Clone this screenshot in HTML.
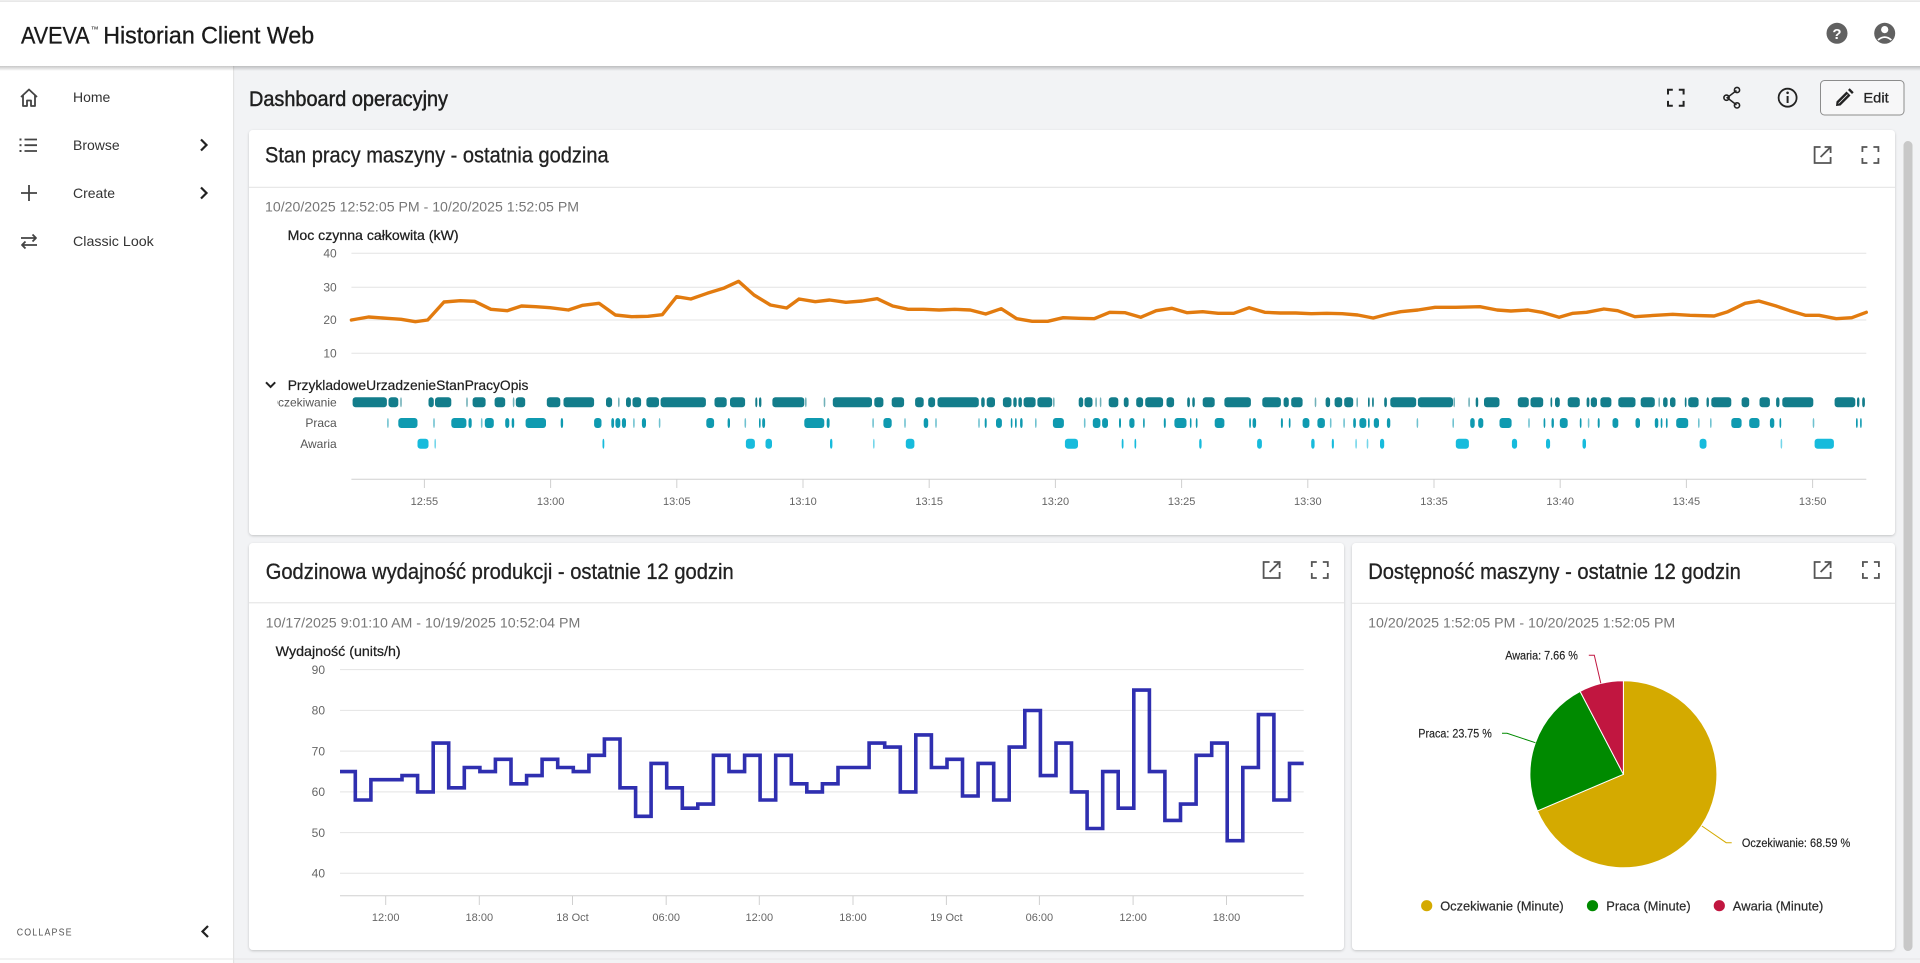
<!DOCTYPE html>
<html><head><meta charset="utf-8"><style>
html,body{margin:0;padding:0;background:#f2f3f5;overflow:hidden}
svg{display:block}
.oc rect{fill:#137d8b;rx:3px;ry:3px}
.pr rect{fill:#0f9ab0;rx:3px;ry:3px}
.aw rect{fill:#17bbdc;rx:3px;ry:3px}
</style></head><body>
<svg width="1920" height="963" viewBox="0 0 1920 963" xmlns="http://www.w3.org/2000/svg" font-family="'Liberation Sans', Arial, sans-serif">
<defs>
<filter id="sh" x="-2%" y="-4%" width="104%" height="110%"><feDropShadow dx="0" dy="1" stdDeviation="1.3" flood-color="#000" flood-opacity="0.2"/></filter>
<linearGradient id="hs" x1="0" y1="0" x2="0" y2="1"><stop offset="0" stop-color="#000" stop-opacity="0.22"/><stop offset="1" stop-color="#000" stop-opacity="0"/></linearGradient>
<clipPath id="lc"><rect x="277" y="390" width="70" height="20"/></clipPath>
</defs>
<rect x="0" y="0" width="1920" height="963" fill="#f2f3f5"/>
<!-- sidebar -->
<rect x="0" y="66" width="233" height="897" fill="#fff"/>
<rect x="233" y="66" width="1.2" height="897" fill="#e3e3e3"/>
<rect x="0" y="958.5" width="1920" height="1" fill="#e6e6e6"/>
<!-- header -->
<rect x="0" y="0" width="1920" height="66" fill="#fff"/>
<rect x="0" y="66" width="1920" height="5" fill="url(#hs)"/>
<rect x="0" y="0.5" width="1920" height="1.2" fill="#dedede"/>
<text x="21" y="43.3" font-size="24" fill="#1a1a1a" stroke="#1a1a1a" stroke-width="0.3" textLength="68.6" lengthAdjust="spacingAndGlyphs">AVEVA</text>
<text x="90.6" y="32" font-size="8" fill="#1a1a1a">™</text>
<text x="103.2" y="43.3" font-size="24" fill="#1a1a1a" stroke="#1a1a1a" stroke-width="0.3" textLength="211" lengthAdjust="spacingAndGlyphs">Historian Client Web</text>
<circle cx="1837" cy="33.3" r="10.5" fill="#616161"/>
<text x="1837" y="38.8" font-size="15" font-weight="bold" fill="#fff" text-anchor="middle">?</text>
<circle cx="1884.7" cy="33.3" r="10.5" fill="#616161"/>
<circle cx="1884.7" cy="29.6" r="3.6" fill="#fff"/>
<path d="M1878,40 Q1884.7,34.2 1891.4,40" stroke="#fff" stroke-width="1.7" fill="none"/>
<!-- sidebar items -->
<g stroke="#444" stroke-width="1.8" fill="none" stroke-linejoin="round">
<path d="M21,97 L29,89.5 L37,97 M23,95 V106 H27 V100.5 H31 V106 H35 V95"/>
<path d="M24.5,139.5 H37 M24.5,145.2 H37 M24.5,151 H37"/>
<path d="M21,193 H37 M29,185 V201"/>
<path d="M21,238 H36 M32.5,234.5 L36,238 L32.5,241.5 M37,245 H22 M25.5,241.5 L22,245 L25.5,248.5"/>
</g>
<g fill="#444"><rect x="19.5" y="138.5" width="2" height="2"/><rect x="19.5" y="144.2" width="2" height="2"/><rect x="19.5" y="150" width="2" height="2"/></g>
<g font-size="14" fill="#333">
<text x="73" y="102">Home</text>
<text x="73" y="150">Browse</text>
<text x="73" y="198">Create</text>
<text x="73" y="246" textLength="80.8" lengthAdjust="spacingAndGlyphs">Classic Look</text>
</g>
<g stroke="#222" stroke-width="2.2" fill="none"><path d="M201,139.5 L206.5,145 L201,150.5"/><path d="M201,187.5 L206.5,193 L201,198.5"/><path d="M208,926 L202.5,931.5 L208,937"/></g>
<text x="16.7" y="935.3" font-size="10" fill="#555" letter-spacing="1.3" textLength="56" lengthAdjust="spacingAndGlyphs">COLLAPSE</text>
<!-- page title row -->
<text x="249" y="106" font-size="21" fill="#1e1e1e" stroke="#1e1e1e" stroke-width="0.45" textLength="199" lengthAdjust="spacingAndGlyphs">Dashboard operacyjny</text>
<g stroke="#222" stroke-width="2" fill="none">
<path d="M1668,94.5 V89.7 H1672.8 M1678.8,89.7 H1683.6 V94.5 M1683.6,100.9 V105.7 H1678.8 M1672.8,105.7 H1668 V100.9"/>
<path d="M1736.5,90.5 L1727.2,97.7 L1736.5,104.9" stroke-width="1.5"/>
<circle cx="1737" cy="90" r="2.6" stroke-width="1.6"/><circle cx="1726.5" cy="97.7" r="2.6" stroke-width="1.6"/><circle cx="1737" cy="105.4" r="2.6" stroke-width="1.6"/>
<circle cx="1787.6" cy="97.7" r="9" stroke-width="1.8"/>
<path d="M1787.6,96 V103"/>
</g>
<circle cx="1787.6" cy="92.8" r="1.3" fill="#222"/>
<rect x="1820.5" y="80.5" width="83.5" height="34.5" rx="4" fill="#f7f7f8" stroke="#8c8c8c" stroke-width="1"/>
<path d="M1836,106 L1836.5,101.5 L1846.5,91.5 L1850.5,95.5 L1840.5,105.5 Z M1848,90 L1849.7,88.3 L1853.7,92.3 L1852,94 Z" fill="#222"/>
<path d="M1838.5,103.5 L1847.5,94.5" stroke="#f7f7f8" stroke-width="0.8"/>
<text x="1863.4" y="102.3" font-size="14" fill="#222" stroke="#222" stroke-width="0.25" textLength="25.3" lengthAdjust="spacingAndGlyphs">Edit</text>
<!-- scrollbar -->
<rect x="1903.5" y="141" width="9" height="810" rx="4.5" fill="#c8c8c8"/>
<!-- cards -->
<g filter="url(#sh)" fill="#fff">
<rect x="249" y="130" width="1646" height="405" rx="4"/>
<rect x="249" y="543" width="1095" height="407" rx="4"/>
<rect x="1352" y="543" width="543" height="407" rx="4"/>
</g>
<g fill="#e2e2e2"><rect x="249" y="186.8" width="1646" height="1"/><rect x="249" y="602.3" width="1095" height="1"/><rect x="1352" y="602.8" width="543" height="1"/></g>
<!-- card icons -->
<g stroke="#555" stroke-width="1.8" fill="none">
<path d="M1820.6,147 H1814.6 V163 H1830.6 V157 M1820.6,157 L1830.6,147 M1824.6,147 H1830.6 V153"/>
<path d="M1862.4,152 V147 H1867.4 M1873.4,147 H1878.4 V152 M1878.4,158 V163 H1873.4 M1867.4,163 H1862.4 V158"/>
<path d="M1269.6,562 H1263.6 V578 H1279.6 V572 M1269.6,572 L1279.6,562 M1273.6,562 H1279.6 V568"/>
<path d="M1311.8,567 V562 H1316.8 M1322.8,562 H1327.8 V567 M1327.8,573 V578 H1322.8 M1316.8,578 H1311.8 V573"/>
<path d="M1820.6,562 H1814.6 V578 H1830.6 V572 M1820.6,572 L1830.6,562 M1824.6,562 H1830.6 V568"/>
<path d="M1862.9,567 V562 H1867.9 M1873.9,562 H1878.9 V567 M1878.9,573 V578 H1873.9 M1867.9,578 H1862.9 V573"/>
</g>
<!-- card titles & dates -->
<g font-size="22" fill="#222" stroke="#222" stroke-width="0.3">
<text x="265" y="162.5" textLength="343.6" lengthAdjust="spacingAndGlyphs">Stan pracy maszyny - ostatnia godzina</text>
<text x="265.7" y="578.8" textLength="468" lengthAdjust="spacingAndGlyphs">Godzinowa wydajność produkcji - ostatnie 12 godzin</text>
<text x="1368.2" y="578.8" textLength="372.6" lengthAdjust="spacingAndGlyphs">Dostępność maszyny - ostatnie 12 godzin</text>
</g>
<g font-size="14" fill="#777">
<text x="265" y="211.3" textLength="314" lengthAdjust="spacingAndGlyphs">10/20/2025 12:52:05 PM - 10/20/2025 1:52:05 PM</text>
<text x="265.7" y="627.3" textLength="314.6" lengthAdjust="spacingAndGlyphs">10/17/2025 9:01:10 AM - 10/19/2025 10:52:04 PM</text>
<text x="1368.2" y="627.3" textLength="307" lengthAdjust="spacingAndGlyphs">10/20/2025 1:52:05 PM - 10/20/2025 1:52:05 PM</text>
</g>
<!-- TOP CHART -->
<text x="287.6" y="240" font-size="14" fill="#1e1e1e" stroke="#1e1e1e" stroke-width="0.25" textLength="171" lengthAdjust="spacingAndGlyphs">Moc czynna całkowita (kW)</text>
<g stroke="#e4e4e4" stroke-width="1"><path d="M351.4,253.3 H1866.3 M351.4,287.3 H1866.3 M351.4,320 H1866.3 M351.4,353.3 H1866.3"/></g>
<g font-size="12" fill="#666" text-anchor="end">
<text x="336.7" y="257.5">40</text><text x="336.7" y="291.5">30</text><text x="336.7" y="324.2">20</text><text x="336.7" y="357.5">10</text>
</g>
<polyline fill="none" stroke="#e27b0f" stroke-width="3.4" stroke-linejoin="round" stroke-linecap="round" points="351.4,320 368.5,317 386.9,318.3 401.2,319.3 415.4,321.7 427.7,320 444,302 460.3,300.7 474.6,301.3 490.9,309.3 507.2,310.7 521.5,306 535.8,306.7 550,307.7 568.4,310 582.7,305.3 599,303.3 615.4,315 631.7,316.7 648,316.3 662.3,314.7 676.6,296.7 690.8,299 707.2,293.3 723.5,288.3 738.6,281.3 754,295 770.4,305 786.7,308 799,299 815.3,301.7 829.6,300 845.9,302.3 862.2,301 877.2,298.7 892.7,306 908.2,309.3 923.7,309.3 939.2,310 954.7,309.3 970.2,310 985.7,314 1001.2,308.7 1016.7,318.7 1032.2,321.3 1047.7,321.3 1063.2,317.7 1078.7,318.3 1094.2,318.7 1109.7,312.3 1125.2,312.7 1140.7,317.3 1156.2,310.7 1171.7,308.3 1187.2,312.7 1202.7,311.7 1218.2,313.3 1233.7,313.3 1249.2,307.7 1264.7,312.3 1280.2,313 1295.7,313 1311.2,313.7 1326.7,313.3 1342.2,313.7 1357.7,315 1373.2,318 1388.7,314 1400.7,311.7 1417.9,310 1435.1,307.3 1455.8,307.3 1479.9,306.7 1497.1,310 1510.9,311 1528.1,310 1541.9,312.3 1559.1,317.3 1572.9,313.3 1586.6,312.3 1603.9,309 1617.6,310.7 1634.9,316.7 1655.5,315.3 1672.7,314.3 1690,315.3 1714.1,316 1727.8,311.7 1745.1,303.3 1758.8,301 1776.1,306 1789.8,310.7 1805.3,315.3 1819.1,315.3 1836.3,318.7 1851.8,317.7 1866.3,312.3"/>
<path d="M266,382.3 L270.6,386.9 L275.2,382.3" stroke="#222" stroke-width="2" fill="none"/>
<text x="287.7" y="390" font-size="14" fill="#1e1e1e" stroke="#1e1e1e" stroke-width="0.2" textLength="240.7" lengthAdjust="spacingAndGlyphs">PrzykladoweUrzadzenieStanPracyOpis</text>
<g font-size="12" fill="#555" text-anchor="end">
<text x="336.7" y="406.5" clip-path="url(#lc)">Oczekiwanie</text>
<text x="336.7" y="427.2">Praca</text>
<text x="336.7" y="447.9">Awaria</text>
</g>
<g class="oc" transform="translate(0,397.3)">
<rect x="352.6" y="0" width="34.3" height="10"/><rect x="388.5" y="0" width="9.8" height="10"/><rect x="400.2" y="0" width="1.6" height="10" opacity=".6"/><rect x="428.5" y="0" width="5.3" height="10"/><rect x="435" y="0" width="16.3" height="10"/><rect x="466.2" y="0" width="1.6" height="10" opacity=".6"/><rect x="472.6" y="0" width="13" height="10"/><rect x="494.6" y="0" width="10.6" height="10"/><rect x="512.8" y="0" width="1.6" height="10" opacity=".6"/><rect x="515.8" y="0" width="9.4" height="10"/><rect x="546.8" y="0" width="13.5" height="10"/><rect x="563.5" y="0" width="30.6" height="10"/><rect x="606" y="0" width="6.1" height="10"/><rect x="618" y="0" width="1.6" height="10" opacity=".6"/><rect x="626" y="0" width="4.9" height="10"/><rect x="632.5" y="0" width="8.6" height="10"/><rect x="646.4" y="0" width="12.6" height="10"/><rect x="660.6" y="0" width="45.3" height="10"/><rect x="714.5" y="0" width="12.2" height="10"/><rect x="730" y="0" width="15.1" height="10"/><rect x="755.3" y="0" width="2" height="10"/><rect x="759" y="0" width="2.4" height="10"/><rect x="772.4" y="0" width="31.9" height="10"/><rect x="805" y="0" width="1.6" height="10" opacity=".6"/><rect x="823.7" y="0" width="1.6" height="10" opacity=".6"/><rect x="832.8" y="0" width="39.2" height="10"/><rect x="874.3" y="0" width="9.1" height="10"/><rect x="891.7" y="0" width="12.4" height="10"/><rect x="915.1" y="0" width="8.6" height="10"/><rect x="928.2" y="0" width="6.9" height="10"/><rect x="937.5" y="0" width="41.3" height="10"/><rect x="981.2" y="0" width="3.5" height="10"/><rect x="986.7" y="0" width="8.3" height="10"/><rect x="1002.9" y="0" width="8.6" height="10"/><rect x="1013.3" y="0" width="3.4" height="10"/><rect x="1018.4" y="0" width="3.5" height="10"/><rect x="1023.6" y="0" width="12" height="10"/><rect x="1037.4" y="0" width="14.8" height="10"/><rect x="1053" y="0" width="1.6" height="10" opacity=".6"/><rect x="1078.7" y="0" width="4.5" height="10"/><rect x="1084.5" y="0" width="8" height="10"/><rect x="1095.3" y="0" width="1.6" height="10" opacity=".6"/><rect x="1099.8" y="0" width="1.6" height="10" opacity=".6"/><rect x="1108.7" y="0" width="9.6" height="10"/><rect x="1123.8" y="0" width="4.8" height="10"/><rect x="1136.2" y="0" width="6.9" height="10"/><rect x="1145.2" y="0" width="17.9" height="10"/><rect x="1166.5" y="0" width="7.6" height="10"/><rect x="1187.2" y="0" width="2.7" height="10"/><rect x="1192.3" y="0" width="2.5" height="10"/><rect x="1202.7" y="0" width="12" height="10"/><rect x="1224.4" y="0" width="26.5" height="10"/><rect x="1262.3" y="0" width="18.6" height="10"/><rect x="1283.6" y="0" width="5.2" height="10"/><rect x="1291.2" y="0" width="11.4" height="10"/><rect x="1314.7" y="0" width="1.6" height="10" opacity=".6"/><rect x="1325.6" y="0" width="4.5" height="10"/><rect x="1334.6" y="0" width="7.6" height="10"/><rect x="1344.2" y="0" width="9" height="10"/><rect x="1356.4" y="0" width="1.6" height="10" opacity=".6"/><rect x="1368" y="0" width="1.7" height="10"/><rect x="1372.1" y="0" width="1.7" height="10"/><rect x="1384.2" y="0" width="2.7" height="10"/><rect x="1390.3" y="0" width="25.9" height="10"/><rect x="1417.9" y="0" width="35.1" height="10"/><rect x="1453.4" y="0" width="1.6" height="10" opacity=".6"/><rect x="1468.3" y="0" width="1.6" height="10" opacity=".6"/><rect x="1475.7" y="0" width="2.5" height="10"/><rect x="1484" y="0" width="15.5" height="10"/><rect x="1517.8" y="0" width="11" height="10"/><rect x="1530.5" y="0" width="12.7" height="10"/><rect x="1550.5" y="0" width="1.7" height="10"/><rect x="1555" y="0" width="4.8" height="10"/><rect x="1567.7" y="0" width="12.1" height="10"/><rect x="1586.6" y="0" width="2.8" height="10"/><rect x="1590.8" y="0" width="6.2" height="10"/><rect x="1600.4" y="0" width="11" height="10"/><rect x="1618.3" y="0" width="17.2" height="10"/><rect x="1640.7" y="0" width="14.1" height="10"/><rect x="1658.4" y="0" width="1.6" height="10" opacity=".6"/><rect x="1663.1" y="0" width="4.5" height="10"/><rect x="1670" y="0" width="5.5" height="10"/><rect x="1684.8" y="0" width="1.7" height="10"/><rect x="1688.2" y="0" width="10.4" height="10"/><rect x="1706.5" y="0" width="2.4" height="10"/><rect x="1711.3" y="0" width="20" height="10"/><rect x="1741.6" y="0" width="7.6" height="10"/><rect x="1759.5" y="0" width="10.4" height="10"/><rect x="1776.1" y="0" width="3.4" height="10"/><rect x="1782.3" y="0" width="31" height="10"/><rect x="1834.6" y="0" width="20.7" height="10"/><rect x="1857" y="0" width="2.4" height="10"/><rect x="1862.2" y="0" width="2.7" height="10"/>
</g>
<g class="pr" transform="translate(0,418)">
<rect x="387.1" y="0" width="1.6" height="10" opacity=".6"/><rect x="398.3" y="0" width="19.2" height="10"/><rect x="433.2" y="0" width="1.6" height="10" opacity=".6"/><rect x="451.3" y="0" width="15.1" height="10"/><rect x="468.5" y="0" width="3.2" height="10"/><rect x="480.9" y="0" width="1.6" height="10" opacity=".6"/><rect x="484.8" y="0" width="9" height="10"/><rect x="505.2" y="0" width="4.1" height="10"/><rect x="511.7" y="0" width="2.5" height="10"/><rect x="525.6" y="0" width="20.4" height="10"/><rect x="560.7" y="0" width="2.4" height="10"/><rect x="594.1" y="0" width="7.4" height="10"/><rect x="611.3" y="0" width="2.8" height="10"/><rect x="615.4" y="0" width="4.9" height="10"/><rect x="621.9" y="0" width="4.1" height="10"/><rect x="633.1" y="0" width="1.6" height="10" opacity=".6"/><rect x="641.9" y="0" width="4.1" height="10"/><rect x="658.8" y="0" width="1.6" height="10" opacity=".6"/><rect x="706.3" y="0" width="7.8" height="10"/><rect x="727.6" y="0" width="2.4" height="10"/><rect x="744.5" y="0" width="1.6" height="10" opacity=".6"/><rect x="759" y="0" width="1.6" height="10"/><rect x="762.2" y="0" width="2.9" height="10"/><rect x="804.3" y="0" width="20" height="10"/><rect x="826.7" y="0" width="2.9" height="10"/><rect x="872.3" y="0" width="1.6" height="10" opacity=".6"/><rect x="883.4" y="0" width="8.3" height="10"/><rect x="904.2" y="0" width="1.6" height="10" opacity=".6"/><rect x="923.7" y="0" width="4.5" height="10"/><rect x="935.2" y="0" width="1.6" height="10" opacity=".6"/><rect x="978.2" y="0" width="1.6" height="10" opacity=".6"/><rect x="984.7" y="0" width="2" height="10"/><rect x="996" y="0" width="5.9" height="10"/><rect x="1010.8" y="0" width="1.6" height="10"/><rect x="1015" y="0" width="1.7" height="10"/><rect x="1020.1" y="0" width="2.5" height="10"/><rect x="1035" y="0" width="1.6" height="10" opacity=".6"/><rect x="1052.9" y="0" width="11" height="10"/><rect x="1083.9" y="0" width="1.6" height="10" opacity=".6"/><rect x="1092.8" y="0" width="7.6" height="10"/><rect x="1102.1" y="0" width="5.9" height="10"/><rect x="1119" y="0" width="2" height="10"/><rect x="1129.3" y="0" width="5.2" height="10"/><rect x="1143.1" y="0" width="1.6" height="10"/><rect x="1163.8" y="0" width="2" height="10"/><rect x="1174.4" y="0" width="12.1" height="10"/><rect x="1189.9" y="0" width="1.6" height="10"/><rect x="1195.8" y="0" width="1.7" height="10"/><rect x="1214.7" y="0" width="9.7" height="10"/><rect x="1249.2" y="0" width="1.7" height="10"/><rect x="1252.6" y="0" width="3.5" height="10"/><rect x="1280.9" y="0" width="2" height="10"/><rect x="1288.8" y="0" width="1.7" height="10"/><rect x="1302.6" y="0" width="6.8" height="10"/><rect x="1317.4" y="0" width="7.5" height="10"/><rect x="1329.9" y="0" width="1.6" height="10" opacity=".6"/><rect x="1343.3" y="0" width="1.6" height="10" opacity=".6"/><rect x="1353.2" y="0" width="2.7" height="10"/><rect x="1359.4" y="0" width="6.9" height="10"/><rect x="1368" y="0" width="1.7" height="10"/><rect x="1373.8" y="0" width="5.2" height="10"/><rect x="1386.9" y="0" width="3.4" height="10"/><rect x="1416.6" y="0" width="1.6" height="10" opacity=".6"/><rect x="1452.4" y="0" width="1.6" height="10" opacity=".6"/><rect x="1470.2" y="0" width="4.5" height="10"/><rect x="1478.2" y="0" width="5.1" height="10"/><rect x="1499.5" y="0" width="12.1" height="10"/><rect x="1528.2" y="0" width="1.6" height="10" opacity=".6"/><rect x="1543.6" y="0" width="1.7" height="10"/><rect x="1551.5" y="0" width="2.4" height="10"/><rect x="1559.8" y="0" width="7.9" height="10"/><rect x="1579.8" y="0" width="1.7" height="10"/><rect x="1587.8" y="0" width="1.6" height="10" opacity=".6"/><rect x="1597.7" y="0" width="2" height="10"/><rect x="1612.5" y="0" width="5.8" height="10"/><rect x="1635.5" y="0" width="4.5" height="10"/><rect x="1654.8" y="0" width="3.5" height="10"/><rect x="1660.7" y="0" width="1.7" height="10"/><rect x="1665.9" y="0" width="1.7" height="10"/><rect x="1676.2" y="0" width="12" height="10"/><rect x="1698" y="0" width="1.6" height="10" opacity=".6"/><rect x="1710" y="0" width="1.6" height="10" opacity=".6"/><rect x="1731.3" y="0" width="10.3" height="10"/><rect x="1749.2" y="0" width="10.3" height="10"/><rect x="1769.9" y="0" width="4.4" height="10"/><rect x="1779.5" y="0" width="1.7" height="10"/><rect x="1812.7" y="0" width="1.6" height="10" opacity=".6"/><rect x="1856" y="0" width="1.7" height="10"/><rect x="1860.1" y="0" width="1.6" height="10"/>
</g>
<g class="aw" transform="translate(0,438.7)">
<rect x="417.5" y="0" width="11" height="10"/><rect x="434.4" y="0" width="1.6" height="10" opacity=".6"/><rect x="602.5" y="0" width="1.8" height="10"/><rect x="745.9" y="0" width="9" height="10"/><rect x="765.5" y="0" width="6.5" height="10"/><rect x="830" y="0" width="2.4" height="10"/><rect x="873" y="0" width="1.6" height="10" opacity=".6"/><rect x="905.8" y="0" width="8.6" height="10"/><rect x="1064.9" y="0" width="13.1" height="10"/><rect x="1121.7" y="0" width="1.8" height="10"/><rect x="1134.5" y="0" width="1.7" height="10"/><rect x="1199.2" y="0" width="2.4" height="10"/><rect x="1257.1" y="0" width="4.8" height="10"/><rect x="1311.2" y="0" width="3.4" height="10"/><rect x="1331.8" y="0" width="2.1" height="10"/><rect x="1355.3" y="0" width="1.6" height="10" opacity=".6"/><rect x="1366.7" y="0" width="1.6" height="10" opacity=".6"/><rect x="1380" y="0" width="4.2" height="10"/><rect x="1455.8" y="0" width="13.1" height="10"/><rect x="1511.9" y="0" width="5.2" height="10"/><rect x="1546" y="0" width="4.1" height="10"/><rect x="1582.5" y="0" width="3.5" height="10"/><rect x="1699.6" y="0" width="6.9" height="10"/><rect x="1780.6" y="0" width="1.6" height="10" opacity=".6"/><rect x="1814.6" y="0" width="19.3" height="10"/>
</g>
<g stroke="#d0d0d0" stroke-width="1" fill="none"><path d="M351.4,479.3 H1866.3 M424.4,479.3 V488 M550.6,479.3 V488 M676.8,479.3 V488 M803,479.3 V488 M929.2,479.3 V488 M1055.4,479.3 V488 M1181.6,479.3 V488 M1307.8,479.3 V488 M1434,479.3 V488 M1560.2,479.3 V488 M1686.4,479.3 V488 M1812.6,479.3 V488"/></g>
<g font-size="11" fill="#666" text-anchor="middle">
<text x="424.4" y="505">12:55</text><text x="550.6" y="505">13:00</text><text x="676.8" y="505">13:05</text><text x="803" y="505">13:10</text><text x="929.2" y="505">13:15</text><text x="1055.4" y="505">13:20</text><text x="1181.6" y="505">13:25</text><text x="1307.8" y="505">13:30</text><text x="1434" y="505">13:35</text><text x="1560.2" y="505">13:40</text><text x="1686.4" y="505">13:45</text><text x="1812.6" y="505">13:50</text>
</g>
<!-- BOTTOM LEFT CHART -->
<text x="275.7" y="656" font-size="14" fill="#1e1e1e" stroke="#1e1e1e" stroke-width="0.25" textLength="125" lengthAdjust="spacingAndGlyphs">Wydajność (units/h)</text>
<g stroke="#e4e4e4" stroke-width="1"><path d="M340,669.6 H1303.7 M340,710.4 H1303.7 M340,751.1 H1303.7 M340,791.9 H1303.7 M340,832.6 H1303.7 M340,873.3 H1303.7"/></g>
<g font-size="12" fill="#666" text-anchor="end">
<text x="325" y="673.8">90</text><text x="325" y="714.6">80</text><text x="325" y="755.3">70</text><text x="325" y="796.1">60</text><text x="325" y="836.8">50</text><text x="325" y="877.5">40</text>
</g>
<path fill="none" stroke="#2f2fb0" stroke-width="3.6" stroke-linejoin="miter" d="M340,771.6 H355.3 V800 H370.9 V779.7 H402 V775.6 H417.6 V791.9 H433.2 V743.1 H448.7 V787.8 H464.3 V767.5 H479.9 V771.6 H495.4 V759.3 H511 V783.8 H526.6 V775.6 H542.1 V759.3 H557.7 V767.5 H573.3 V771.6 H588.9 V755.3 H604.4 V739 H620 V787.8 H635.6 V816.3 H651.1 V763.4 H666.7 V787.8 H682.3 V808.2 H697.8 V804.1 H713.4 V755.3 H729 V771.6 H744.6 V755.3 H760.1 V800 H775.7 V755.3 H791.3 V783.8 H806.8 V791.9 H822.4 V783.8 H838 V767.5 H869.1 V743.1 H884.7 V747.1 H900.3 V791.9 H915.8 V734.9 H931.4 V767.5 H947 V759.3 H962.5 V796 H978.1 V763.4 H993.7 V800 H1009.2 V747.1 H1024.8 V710.5 H1040.4 V775.6 H1056 V743.1 H1071.5 V791.9 H1087.1 V828.5 H1102.7 V771.6 H1118.2 V808.2 H1133.8 V690.1 H1149.4 V771.6 H1164.9 V820.4 H1180.5 V804.1 H1196.1 V755.3 H1211.7 V743.1 H1227.2 V840.7 H1242.8 V767.5 H1258.4 V714.6 H1273.9 V800 H1289.5 V763.4 H1303.7"/>
<g stroke="#d0d0d0" stroke-width="1" fill="none"><path d="M340,895.7 H1303.7 M385.7,895.7 V905 M479.3,895.7 V905 M572.5,895.7 V905 M666.2,895.7 V905 M759.3,895.7 V905 M853,895.7 V905 M946.4,895.7 V905 M1039.4,895.7 V905 M1133.1,895.7 V905 M1226.5,895.7 V905"/></g>
<g font-size="11" fill="#666" text-anchor="middle">
<text x="385.7" y="921.2">12:00</text><text x="479.3" y="921.2">18:00</text><text x="572.5" y="921.2">18 Oct</text><text x="666.2" y="921.2">06:00</text><text x="759.3" y="921.2">12:00</text><text x="853" y="921.2">18:00</text><text x="946.4" y="921.2">19 Oct</text><text x="1039.4" y="921.2">06:00</text><text x="1133.1" y="921.2">12:00</text><text x="1226.5" y="921.2">18:00</text>
</g>
<!-- PIE -->
<g stroke="#fff" stroke-width="1" stroke-linejoin="round">
<path d="M1623.4,774.3 L1623.4,680.8 A93.5,93.5 0 1 1 1537.4,810.95 Z" fill="#d4aa00"/>
<path d="M1623.4,774.3 L1537.4,810.95 A93.5,93.5 0 0 1 1580.1,691.4 Z" fill="#008a00"/>
<path d="M1623.4,774.3 L1580.1,691.4 A93.5,93.5 0 0 1 1623.4,680.8 Z" fill="#c11640"/>
</g>
<g fill="none" stroke-width="1">
<polyline points="1600.8,683.3 1594.3,655.3 1588.8,655.3" stroke="#c11640"/>
<polyline points="1535.4,742.7 1507,733.3 1502,733.3" stroke="#008a00"/>
<polyline points="1701.9,826 1726.2,842.7 1731.7,842.7" stroke="#d4aa00"/>
</g>
<g font-size="11.5" fill="#222" stroke="#222" stroke-width="0.15">
<text x="1577.9" y="659.3" text-anchor="end" textLength="72.7" lengthAdjust="spacingAndGlyphs">Awaria: 7.66 %</text>
<text x="1491.8" y="737.3" text-anchor="end" textLength="73.5" lengthAdjust="spacingAndGlyphs">Praca: 23.75 %</text>
<text x="1741.9" y="847" textLength="108.3" lengthAdjust="spacingAndGlyphs">Oczekiwanie: 68.59 %</text>
</g>
<circle cx="1426.7" cy="905.7" r="5.6" fill="#d4aa00"/>
<circle cx="1592.5" cy="905.7" r="5.6" fill="#008a00"/>
<circle cx="1719.3" cy="905.7" r="5.6" fill="#c11640"/>
<g font-size="13" fill="#2a2a2a" stroke="#2a2a2a" stroke-width="0.2">
<text x="1440.2" y="910.3" textLength="123.5" lengthAdjust="spacingAndGlyphs">Oczekiwanie (Minute)</text>
<text x="1606.3" y="910.3" textLength="84.3" lengthAdjust="spacingAndGlyphs">Praca (Minute)</text>
<text x="1732.8" y="910.3" textLength="90.5" lengthAdjust="spacingAndGlyphs">Awaria (Minute)</text>
</g>
</svg>
</body></html>
